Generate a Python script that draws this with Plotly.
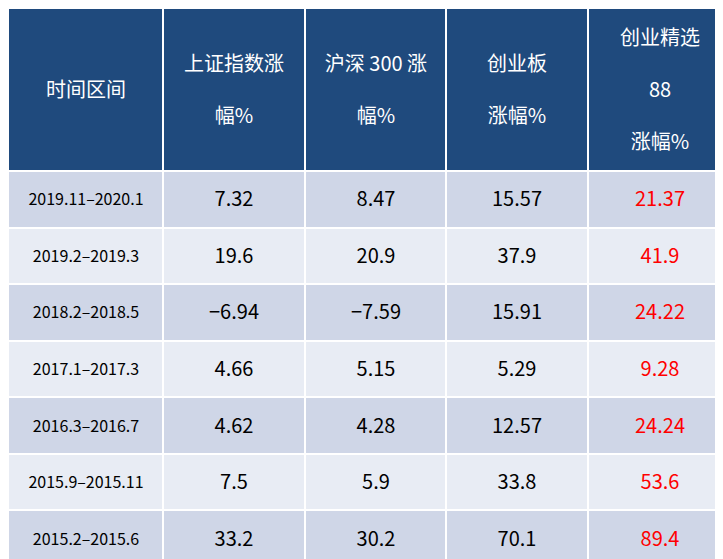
import plotly.graph_objects as go

HEADERS = ["时间区间", "上证指数涨<br><br>幅%", "沪深 300 涨<br><br>幅%",
           "创业板<br><br>涨幅%", "创业精选<br><br>88<br><br>涨幅%"]
periods = ["2019.11–2020.1", "2019.2–2019.3", "2018.2–2018.5", "2017.1–2017.3",
           "2016.3–2016.7", "2015.9–2015.11", "2015.2–2015.6"]
sh_index = ["7.32", "19.6", "−6.94", "4.66", "4.62", "7.5", "33.2"]
hs300 = ["8.47", "20.9", "−7.59", "5.15", "4.28", "5.9", "30.2"]
chinext = ["15.57", "37.9", "15.91", "5.29", "12.57", "33.8", "70.1"]
chinext88 = ["21.37", "41.9", "24.22", "9.28", "24.24", "53.6", "89.4"]

# layout grid (pixel edges)
X_EDGES = [0, 155, 297, 438, 580, 723]
HEADER_H = 163
ROW_H = (559 - HEADER_H) / len(periods)
Y_EDGES = [0, HEADER_H] + [HEADER_H + ROW_H * (i + 1) for i in range(len(periods))]

COLORSCALE = [[0, "#1F4A7D"], [0.5, "#CFD6E7"], [1, "#E8ECF4"]]
FONT = "Noto Sans CJK SC"
row_z = [[1 if i % 2 == 0 else 2] for i in range(len(periods))]
body_y = Y_EDGES[1:]


def cell_trace(x, y, z, text, color, size):
    return go.Heatmap(
        x=x, y=y, z=z, text=text, texttemplate="%{text}",
        textfont=dict(color=color, size=size, family=FONT),
        colorscale=COLORSCALE, zmin=0, zmax=2, showscale=False,
        xgap=2, ygap=2, hoverinfo="skip",
    )


fig = go.Figure()
fig.add_trace(cell_trace(X_EDGES, Y_EDGES[:2], [[0] * 5], [HEADERS], "white", 20))
fig.add_trace(cell_trace(X_EDGES[:2], body_y, row_z, [[p] for p in periods], "black", 16))
mid_text = [[a, b, c] for a, b, c in zip(sh_index, hs300, chinext)]
mid_z = [r * 3 for r in row_z]
fig.add_trace(cell_trace(X_EDGES[1:5], body_y, mid_z, mid_text, "black", 20))
fig.add_trace(cell_trace(X_EDGES[4:], body_y, row_z, [[v] for v in chinext88], "#FF0000", 20))

fig.update_xaxes(range=[0, 723], visible=False)
fig.update_yaxes(range=[559, 0], visible=False)
fig.update_layout(width=723, height=559, margin=dict(l=0, r=0, t=0, b=0),
                  paper_bgcolor="white", plot_bgcolor="white")
fig.write_html("out.html")
